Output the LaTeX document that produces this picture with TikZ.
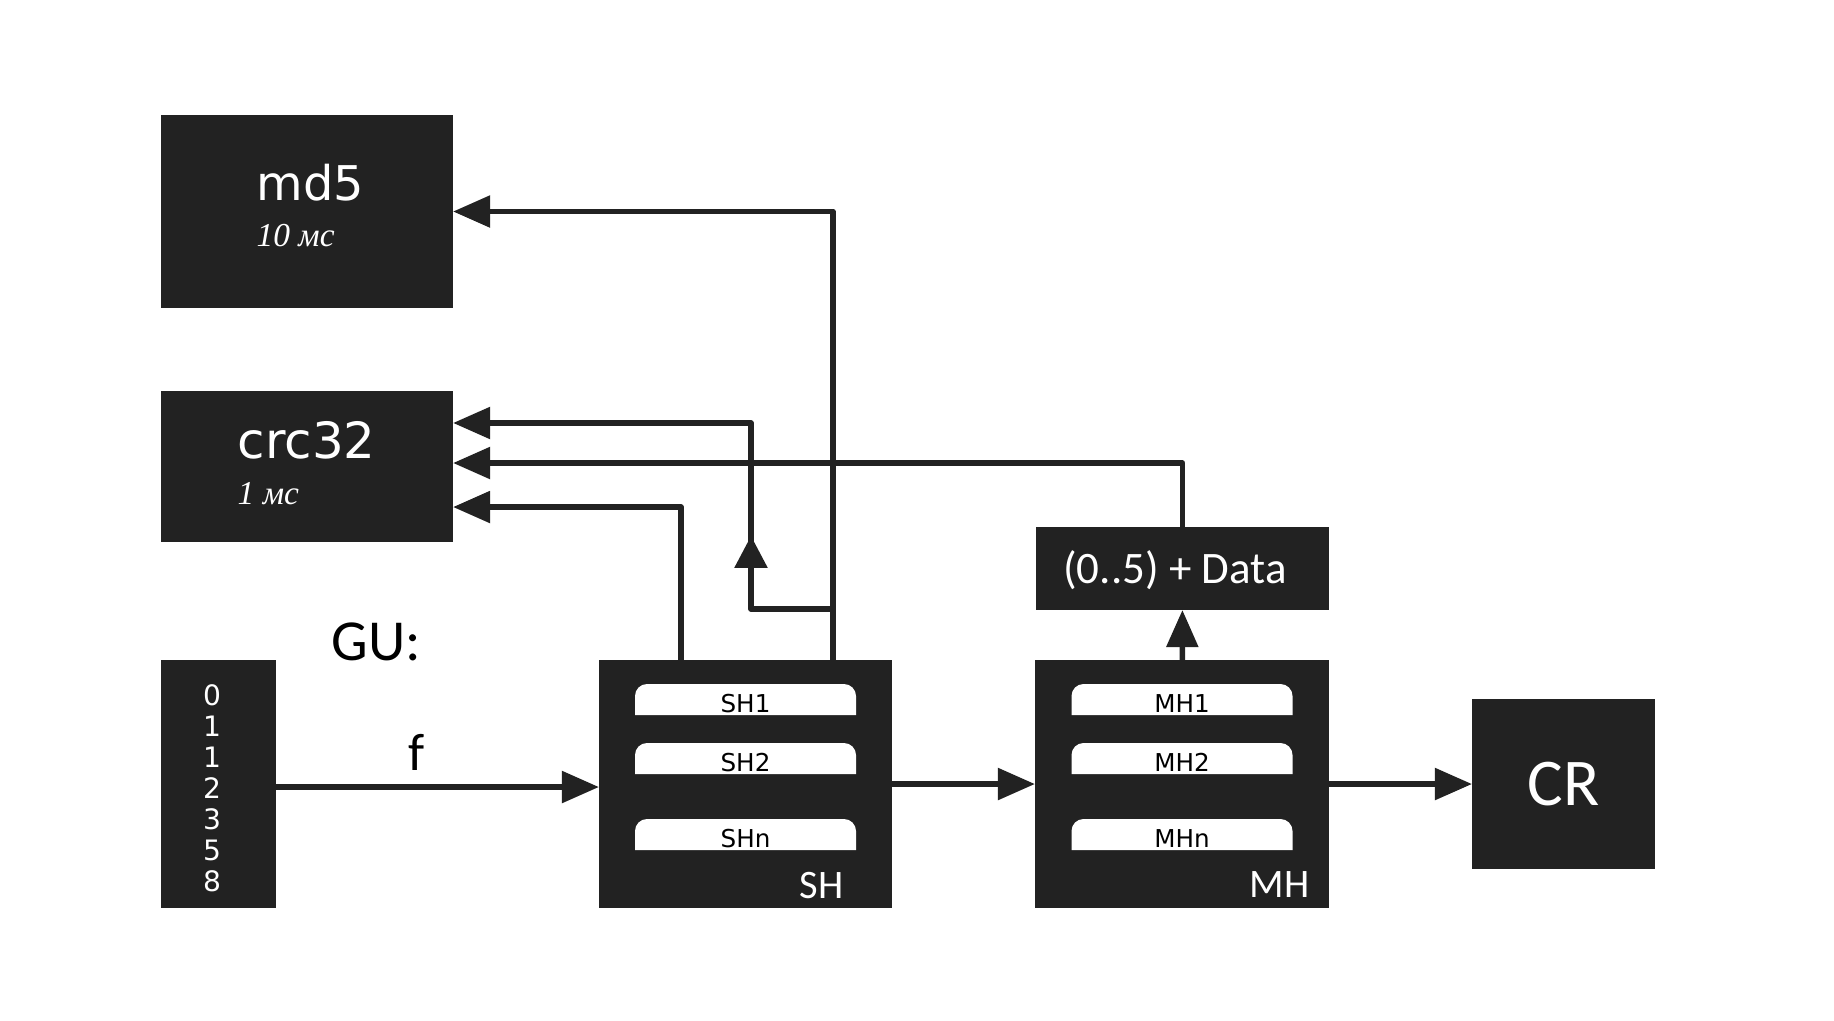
\documentclass[tikz,border=0pt]{standalone}
\usepackage{fontspec}
\setmainfont{Carlito}
\newfontfamily\vera{DejaVu Sans}
\newfontfamily\timefont{Liberation Serif}
\usetikzlibrary{arrows.meta,positioning}
\definecolor{ink}{HTML}{222222}

\begin{document}
\begin{tikzpicture}[x=0.01cm,y=-0.01cm,
  blk/.style={fill=ink,draw=none,inner sep=0pt,outer sep=0pt,text=white},
  wire/.style={draw=ink,line width=1.56pt,line join=round},
  arr/.style={wire,-{Triangle[length=3.7mm,width=3.1mm]}},
  lbl/.style={inner sep=0pt,text=white},
  slot/.style={inner sep=0pt,text=black,font=\vera\fontsize{7}{8}\selectfont},
  digit/.style={inner sep=0pt,text=white,font=\vera\fontsize{8}{9}\selectfont}]
\useasboundingbox (0,0) rectangle (1834,1020);

% boxes
\node[blk,minimum width=2.92cm,minimum height=1.93cm] (md5) at (307,211.5) {};
\node[blk,minimum width=2.92cm,minimum height=1.51cm] (crc) at (307,466.5) {};
\node[blk,minimum width=1.15cm,minimum height=2.48cm] (nums) at (218.5,784) {};
\node[blk,minimum width=2.93cm,minimum height=2.48cm] (SH) at (745.5,784) {};
\node[blk,minimum width=2.94cm,minimum height=2.48cm] (MH) at (1182,784) {};
\node[blk,minimum width=2.93cm,minimum height=0.83cm] (data) at (1182.5,568.5) {};
\node[blk,minimum width=1.83cm,minimum height=1.70cm,font=\fontsize{19}{22}\selectfont] (CR) at (1563.5,784) {CR};

% texts
\node[lbl,anchor=base west,font=\vera\fontsize{13.6}{15}\selectfont] (md5name) at (256,200) {md5};
\node[lbl,anchor=base west,font=\timefont\itshape\fontsize{9.5}{11}\selectfont] (md5time) at (256,246) {10 мс};
\node[lbl,anchor=base west,font=\vera\fontsize{14.2}{16}\selectfont] (crcname) at (237,458) {crc32};
\node[lbl,anchor=base west,font=\timefont\itshape\fontsize{9.5}{11}\selectfont] (crctime) at (237,504) {1 мс};
\node[lbl,anchor=base,font=\fontsize{12.8}{15}\selectfont] (datatxt) at (1175,583) {(0..5) + Data};
\node[lbl,anchor=base east,font=\fontsize{11.5}{13}\selectfont] (shname) at (844,898) {SH};
\node[lbl,anchor=base east,font=\fontsize{11.5}{13}\selectfont] (mhname) at (1310,897) {MH};
\node[lbl,anchor=base west,text=black,font=\fontsize{16.5}{19}\selectfont] (gu) at (331,660) {GU:};
\node[lbl,anchor=base,text=black,font=\fontsize{15}{17}\selectfont] (flbl) at (417,770) {f};

\foreach \d [count=\i from 0] in {0,1,1,2,3,5,8}
  \node[digit,anchor=base] (d\i) at (212,705+31.1*\i) {\d};

% hash slots
\foreach \cx/\pre in {745.5/SH,1182/MH}
  \foreach \yb/\suf in {715/1,774/2,850/n} {
    \fill[white] (\cx-110.5,\yb) [rounded corners=1.2mm] -- (\cx-110.5,\yb-31)
      -- (\cx+110.5,\yb-31) [sharp corners] -- (\cx+110.5,\yb) -- cycle;
    \node[slot,anchor=base] (\pre\suf) at (\cx,\yb-3) {\pre\suf};
  }

% connectors
\coordinate (shl) at ([xshift=0.82cm]SH.north west);
\coordinate (shr) at ([xshift=2.34cm]SH.north west);
\coordinate (fork) at ([yshift=0.51cm]shr);
\coordinate (loop) at ([xshift=-0.82cm]fork);
\coordinate (looptip) at ([yshift=0.73cm]loop);

\draw[arr] ([yshift=-0.03cm]nums.east) -- ([yshift=-0.03cm]SH.west);
\draw[arr] (SH) -- (MH);
\draw[arr] (MH) -- (CR);
\draw[arr] (MH) -- (data);
\draw[arr] (shr) |- (md5);
\draw[arr] (shl) |- ([yshift=-0.405cm]crc.east);
\draw[arr] (fork) -- (loop) |- ([yshift=0.435cm]crc.east);
\draw[arr,-{Triangle[length=3.2mm,width=3.2mm]}] (loop) -- (looptip);
\draw[arr] (data.north) |- ([yshift=0.035cm]crc.east);
\end{tikzpicture}
\end{document}
